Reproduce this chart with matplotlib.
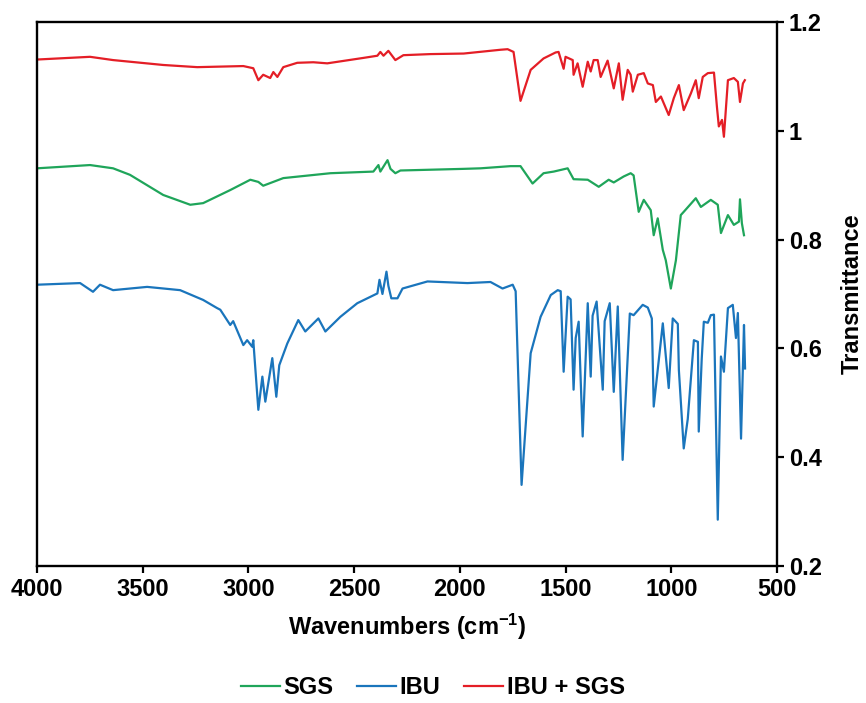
import matplotlib
matplotlib.use('Agg')
import matplotlib.pyplot as plt
from matplotlib.ticker import FuncFormatter

plt.rcParams['font.family'] = ['Liberation Sans', 'DejaVu Sans']
plt.rcParams['font.weight'] = 'bold'
plt.rcParams['mathtext.fontset'] = 'custom'
plt.rcParams['mathtext.rm'] = 'Liberation Sans:bold'
plt.rcParams['mathtext.bf'] = 'Liberation Sans:bold'
plt.rcParams['mathtext.default'] = 'bf'

# spectra (wavenumber, transmittance)
wn_sgs = [4000, 3749, 3640, 3560, 3403, 3275, 3214, 3086, 2991, 2953, 2930, 2835, 2612,
          2409, 2385, 2376, 2342, 2328, 2305, 2281, 1982, 1902, 1760, 1713, 1656, 1604,
          1556, 1490, 1462, 1395, 1343, 1296, 1272, 1225, 1192, 1178, 1154, 1130, 1097,
          1083, 1064, 1040, 1026, 1002, 978, 955, 941, 884, 860, 813, 780, 765, 732, 704,
          680, 675, 666, 656]
t_sgs = [0.931, 0.937, 0.931, 0.919, 0.882, 0.864, 0.867, 0.891, 0.910, 0.906, 0.899, 0.913, 0.922,
         0.925, 0.937, 0.925, 0.946, 0.930, 0.922, 0.927, 0.930, 0.931, 0.935, 0.935, 0.903, 0.922,
         0.925, 0.931, 0.911, 0.910, 0.897, 0.910, 0.905, 0.916, 0.922, 0.918, 0.851, 0.873, 0.854,
         0.808, 0.839, 0.781, 0.762, 0.710, 0.762, 0.845, 0.851, 0.876, 0.860, 0.873, 0.864, 0.812, 0.845, 0.827,
         0.833, 0.874, 0.830, 0.808]

wn_ibu = [4000, 3796, 3735, 3702, 3640, 3479, 3323, 3214, 3148, 3133, 3086, 3072, 3048, 3024,
          3006, 2982, 2977, 2953, 2934, 2920, 2887, 2868, 2854, 2816, 2764, 2731, 2669, 2636,
          2565, 2485, 2390, 2380, 2366, 2347, 2338, 2324, 2295, 2271, 2153, 1964, 1855, 1798,
          1750, 1736, 1708, 1665, 1618, 1570, 1537, 1523, 1509, 1490, 1476, 1462, 1452, 1438,
          1419, 1395, 1381, 1372, 1353, 1324, 1315, 1291, 1272, 1253, 1230, 1196, 1178, 1135,
          1111, 1092, 1083, 1040, 1012, 993, 969, 964, 941, 922, 893, 874, 870, 856, 846, 827,
          813, 798, 780, 765, 751, 732, 709, 694, 685, 670, 656, 651]
t_ibu = [0.717, 0.720, 0.704, 0.717, 0.707, 0.713, 0.707, 0.689, 0.674, 0.671, 0.643, 0.650, 0.628, 0.606,
         0.615, 0.603, 0.615, 0.487, 0.548, 0.502, 0.582, 0.511, 0.569, 0.609, 0.652, 0.631, 0.655, 0.631,
         0.658, 0.683, 0.701, 0.726, 0.700, 0.741, 0.715, 0.692, 0.692, 0.710, 0.723, 0.720, 0.722, 0.710,
         0.717, 0.705, 0.349, 0.591, 0.658, 0.698, 0.707, 0.705, 0.557, 0.695, 0.690, 0.524, 0.619, 0.649,
         0.438, 0.683, 0.548, 0.660, 0.686, 0.524, 0.650, 0.683, 0.520, 0.677, 0.395, 0.664, 0.661, 0.680,
         0.675, 0.655, 0.493, 0.646, 0.527, 0.655, 0.645, 0.560, 0.416, 0.470, 0.615, 0.612, 0.447, 0.580, 0.649, 0.647,
         0.661, 0.662, 0.285, 0.585, 0.557, 0.674, 0.680, 0.619, 0.665, 0.434, 0.643, 0.563]

wn_mix = [4000, 3749, 3640, 3403, 3242, 3024, 2977, 2953, 2930, 2897, 2882, 2863, 2835, 2769,
          2693, 2627, 2456, 2390, 2376, 2361, 2338, 2305, 2267, 2139, 1982, 1807, 1774, 1746,
          1713, 1665, 1604, 1547, 1533, 1509, 1500, 1466, 1462, 1443, 1419, 1395, 1381, 1367,
          1348, 1334, 1301, 1272, 1248, 1230, 1206, 1192, 1182, 1158, 1130, 1111, 1087, 1073,
          1049, 1012, 988, 964, 941, 907, 884, 870, 851, 827, 798, 784, 775, 760, 751, 732,
          704, 685, 675, 661, 652]
t_mix = [1.131, 1.136, 1.130, 1.121, 1.117, 1.119, 1.115, 1.093, 1.103, 1.097, 1.108, 1.099, 1.117, 1.125,
         1.126, 1.124, 1.134, 1.138, 1.145, 1.138, 1.147, 1.130, 1.139, 1.141, 1.142, 1.149, 1.150, 1.145,
         1.055, 1.112, 1.133, 1.144, 1.145, 1.114, 1.136, 1.130, 1.103, 1.124, 1.081, 1.127, 1.109, 1.130,
         1.130, 1.099, 1.129, 1.078, 1.124, 1.057, 1.112, 1.103, 1.072, 1.103, 1.106, 1.087, 1.084, 1.053,
         1.063, 1.029, 1.060, 1.084, 1.038, 1.069, 1.093, 1.060, 1.099, 1.106, 1.107, 1.044, 1.008, 1.020, 0.989, 1.093,
         1.097, 1.090, 1.053, 1.087, 1.093]

fig = plt.figure(figsize=(8.66, 7.03), dpi=100)
ax = fig.add_axes([0.0427, 0.195, 0.8545, 0.7737])

ax.plot(wn_sgs, t_sgs, color='#1fa55a', lw=1.6, label='SGS')
ax.plot(wn_ibu, t_ibu, color='#1a75bc', lw=1.6, label='IBU')
ax.plot(wn_mix, t_mix, color='#e41e26', lw=1.6, label='IBU + SGS')

ax.set_xlim(4000, 500)
ax.set_ylim(0.2, 1.2)
ax.set_xticks([4000, 3500, 3000, 2500, 2000, 1500, 1000, 500])
ax.set_yticks([0.2, 0.4, 0.6, 0.8, 1.0, 1.2])
ax.yaxis.set_major_formatter(FuncFormatter(lambda v, p: '%g' % v))
ax.yaxis.tick_right()
ax.yaxis.set_label_position('right')
ax.tick_params(direction='out', length=5, width=1.6, labelsize=17)
for s in ax.spines.values():
    s.set_linewidth(1.7)

ax.set_xlabel('Wavenumbers (cm$^{-1}$)', fontsize=17, fontweight='bold', labelpad=8)
ax.set_ylabel('Transmittance', fontsize=17, fontweight='bold', labelpad=14)

fig.legend(loc='center', bbox_to_anchor=(0.5, 0.022), ncol=3, frameon=False,
           fontsize=17, handlelength=1.65, handletextpad=0.15, columnspacing=1.0)

plt.savefig('out.png', dpi=100)
